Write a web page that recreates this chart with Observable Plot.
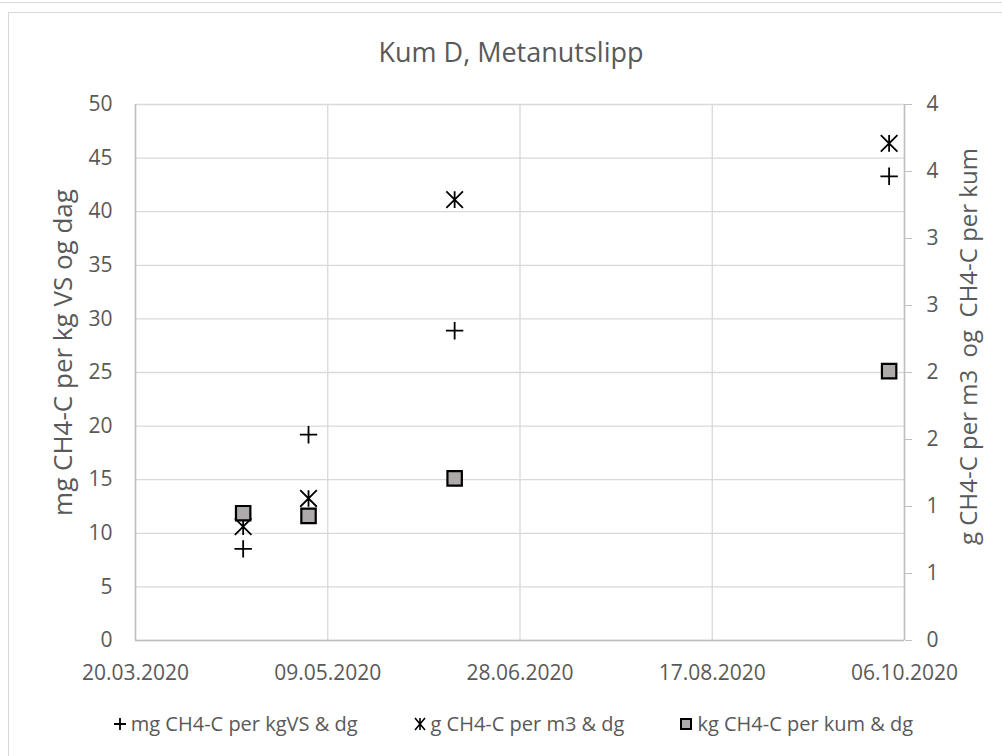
<!DOCTYPE html>
<html>
<head>
<meta charset="utf-8">
<script src="https://cdn.jsdelivr.net/npm/d3@7"></script>
<script src="https://cdn.jsdelivr.net/npm/@observablehq/plot@0.6"></script>
<style>
  html, body { margin: 0; padding: 0; background: #fff; }
  body { width: 1002px; height: 756px; overflow: hidden; position: relative;
         font-family: "Open Sans", sans-serif; color: #595959; }
  #chart { position: absolute; left: 0; top: 0; }
  #topline { position: absolute; left: 0; top: 2px; width: 1002px; border-top: 1px solid #d9d9d9; }
  #area { position: absolute; left: 8px; top: 12px; width: 1100px; height: 800px;
          border: 1.5px solid #d9d9d9; box-sizing: border-box; pointer-events: none; }
  #title { position: absolute; left: 0; width: 1022px; top: 33px; text-align: center;
           font-size: 27px; line-height: normal; }
  #legend { position: absolute; left: 0; width: 1026px; top: 710px; display: flex;
            justify-content: center; gap: 55px; font-size: 20px; line-height: 28px; }
  #legend .item { display: flex; align-items: center; gap: 4px; }
  svg text { white-space: pre; }
</style>
</head>
<body>
<div id="chart"></div>
<div id="topline"></div>
<div id="area"></div>
<div id="title">Kum D, Metanutslipp</div>
<div id="legend"></div>
<script>
// Sampling dates and measured methane emissions
const dates = ["17.04.2020", "04.05.2020", "11.06.2020", "02.10.2020"];
const mgPerKgVS = [8.55, 19.2, 28.9, 43.3];   // mg CH4-C per kgVS & dg (left axis)
const gPerM3 = [0.85, 1.06, 3.29, 3.71];      // g CH4-C per m3 & dg (right axis)
const kgPerKum = [0.95, 0.93, 1.21, 2.01];    // kg CH4-C per kum & dg (right axis)

// Axis ticks
const xTickLabels = ["20.03.2020", "09.05.2020", "28.06.2020", "17.08.2020", "06.10.2020"];
const leftTicks = [0, 5, 10, 15, 20, 25, 30, 35, 40, 45, 50];
const rightTicks = [0, 0.5, 1, 1.5, 2, 2.5, 3, 3.5, 4];

const seriesNames = ["mg CH4-C per kgVS & dg", "g CH4-C per m3 & dg", "kg CH4-C per kum & dg"];
const leftTitle = "mg CH4-C per kg VS og dag";
const rightTitle = "g CH4-C per m3  og  CH4-C per kum";

const parse = d3.utcParse("%d.%m.%Y");
const fmt = d3.utcFormat("%d.%m.%Y");
const xTicks = xTickLabels.map(parse);
const k = 50 / 4; // right-axis units -> left-axis units

const rows = dates.map((d, i) => ({
  date: parse(d),
  mg: mgPerKgVS[i],
  g: gPerM3[i] * k,
  kg: kgPerKum[i] * k
}));

// Marker shapes
const plusSymbol = { draw(ctx, size) { const r = Math.sqrt(size / Math.PI);
  ctx.moveTo(-r, 0); ctx.lineTo(r, 0); ctx.moveTo(0, -r); ctx.lineTo(0, r); } };
const starSymbol = { draw(ctx, size) { const r = Math.sqrt(size / Math.PI);
  ctx.moveTo(0, -r); ctx.lineTo(0, r);
  ctx.moveTo(-r, -r); ctx.lineTo(r, r);
  ctx.moveTo(-r, r); ctx.lineTo(r, -r); } };
const squareSymbol = { draw(ctx, size) { const r = Math.sqrt(size / Math.PI);
  ctx.rect(-r, -r, 2 * r, 2 * r); } };

const chart = Plot.plot({
  width: 1002,
  height: 756,
  marginLeft: 135,
  marginRight: 98,
  marginTop: 104,
  marginBottom: 116,
  style: { fontFamily: '"Open Sans", sans-serif', fontSize: "21px", color: "#595959",
           background: "transparent", overflow: "visible" },
  x: { type: "utc", domain: [xTicks[0], xTicks[xTicks.length - 1]] },
  y: { domain: [0, 50] },
  marks: [
    Plot.gridY(leftTicks, { stroke: "#d9d9d9", strokeOpacity: 1, strokeWidth: 1.3 }),
    Plot.gridX(xTicks, { stroke: "#d9d9d9", strokeOpacity: 1, strokeWidth: 1.3 }),
    Plot.ruleX([xTicks[0], xTicks[xTicks.length - 1]], { stroke: "#bfbfbf", strokeWidth: 1.5 }),
    Plot.ruleY([0], { stroke: "#bfbfbf", strokeWidth: 1.5 }),
    Plot.axisY(leftTicks, { anchor: "left", tickSize: 0, tickPadding: 23, label: null, fill: "#595959" }),
    Plot.axisY(rightTicks.map(v => v * k), {
      anchor: "right", tickSize: 7, tickPadding: 15, label: null,
      tickFormat: d => String(Math.round(d / k)),
      stroke: "#bfbfbf", fill: "#595959"
    }),
    Plot.axisX(xTicks, { anchor: "bottom", tickSize: 0, tickPadding: 25, label: null,
                         tickFormat: fmt, fill: "#595959" }),
    Plot.dot(rows, { x: "date", y: "mg", symbol: plusSymbol, r: 8.7,
                     fill: "none", stroke: "#000", strokeWidth: 1.8 }),
    Plot.dot(rows, { x: "date", y: "g", symbol: starSymbol, r: 8.3,
                     fill: "none", stroke: "#000", strokeWidth: 1.8 }),
    Plot.dot(rows, { x: "date", y: "kg", symbol: squareSymbol, r: 7.2,
                     fill: "#aeaaaa", stroke: "#000", strokeWidth: 2.2 }),
    Plot.text([leftTitle], { text: d => d, frameAnchor: "left", textAnchor: "middle",
                             rotate: -90, dx: -72, dy: -20, fontSize: 26, fill: "#595959" }),
    Plot.text([rightTitle], { text: d => d, frameAnchor: "right", textAnchor: "middle",
                              rotate: -90, dx: 65, dy: -26, fontSize: 24, fill: "#595959" })
  ]
});
document.getElementById("chart").appendChild(chart);

// Legend below the plot
const legendIcons = [
  '<svg width="14" height="14" viewBox="-7 -7 14 14"><path d="M-6,0H6M0,-6V6" stroke="#000" stroke-width="1.8" fill="none"/></svg>',
  '<svg width="14" height="14" viewBox="-7 -7 14 14"><path d="M0,-6V6M-5,-6L5,6M-5,6L5,-6" stroke="#000" stroke-width="1.6" fill="none"/></svg>',
  '<svg width="14" height="14" viewBox="-7 -7 14 14"><rect x="-5" y="-5" width="10" height="10" fill="#aeaaaa" stroke="#000" stroke-width="2"/></svg>'
];
const legend = d3.select("#legend");
seriesNames.forEach((name, i) => {
  const item = legend.append("div").attr("class", "item");
  item.append("span").style("display", "flex").html(legendIcons[i]);
  item.append("span").text(name);
});
</script>
</body>
</html>
